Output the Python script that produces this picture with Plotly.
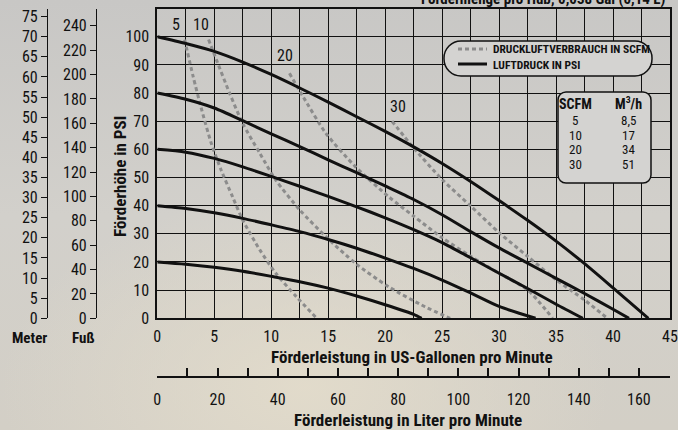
import base64
import plotly.graph_objects as go

# ---------------- data ----------------
psi_levels = [100, 80, 60, 40, 20]
gpm_psi100 = [0, 2.5, 5, 7.5, 10, 12.5, 15, 17.5, 20, 22.5, 25, 27.5, 30, 32.5, 35, 37.5, 40, 43.1]
head_psi100 = [100, 97.6, 94.8, 91, 86.6, 81.8, 76.8, 71.6, 66.4, 60.9, 55, 48.6, 41.8, 34.8, 27.4, 19.4, 10.8, 0]
gpm_psi80 = [0, 2.5, 5, 7.5, 10, 12.5, 15, 17.5, 20, 22.5, 25, 27.5, 30, 32.5, 35, 37.5, 40, 41.4]
head_psi80 = [80, 77.8, 74.7, 70.2, 65.5, 61, 56.3, 51.7, 47, 42.2, 36.8, 30.8, 25, 19.6, 14.2, 8.8, 3.2, 0]
gpm_psi60 = [0, 2.5, 5, 7.5, 10, 12.5, 15, 17.5, 20, 22.5, 25, 27.5, 30, 32.5, 35, 37.35]
head_psi60 = [60, 59, 56.8, 53.8, 50.4, 46.9, 43.3, 39.6, 35.7, 31.5, 26.9, 21.5, 16, 10.6, 5, 0]
gpm_psi40 = [0, 2.5, 5, 7.5, 10, 12.5, 15, 17.5, 20, 22.5, 25, 27.5, 30, 33.2]
head_psi40 = [40, 39, 37.5, 35.5, 33.2, 30.8, 28, 24.9, 21.4, 17.7, 13.6, 9, 4.2, 0]
gpm_psi20 = [0, 2.5, 5, 7.5, 10, 12.5, 15, 17.5, 20, 22.5, 23.2]
head_psi20 = [20, 19.2, 18.1, 16.7, 14.9, 13, 10.7, 7.9, 4.8, 1.4, 0]

scfm_levels = [5, 10, 20, 30]
gpm_scfm5 = [2.4, 3.15, 3.9, 4.75, 5.6, 6.6, 7.5, 9.0, 10.4, 12.2, 14.0]
head_scfm5 = [99, 85.8, 74, 62, 52.7, 43.2, 34.9, 24.3, 16, 7.7, 0]
gpm_scfm10 = [4.5, 5.2, 6.35, 7.5, 9.0, 10.4, 12.5, 14.8, 17.4, 20.3, 23.5, 25.7]
head_scfm10 = [99, 91.7, 79.9, 69.2, 58.6, 49.1, 38.5, 29, 19.5, 11.2, 4.1, 0]
gpm_scfm20 = [11.6, 12.8, 14.8, 17.4, 20.3, 22.5, 25, 27.5, 30, 32.5, 34.7]
head_scfm20 = [87, 78.7, 65.7, 53.8, 43.2, 36.3, 28.6, 22, 16, 10.1, 0]
gpm_scfm30 = [20.6, 22.5, 25, 27.5, 30, 32.5, 35, 37.5, 39.5]
head_scfm30 = [70, 60.5, 49.3, 39.9, 30.4, 22, 13.7, 6.5, 0]

scfm_label_x = [1.65, 3.8, 11.2, 21.1]
scfm_label_y = [104.5, 104.5, 93.4, 75.3]

table_scfm = ["5", "10", "20", "30"]
table_m3h = ["8,5", "17", "34", "51"]

# unit conversions for secondary axes
PSI_MAX = 110
GPM_MAX = 45
M_PER_PSI = 0.70
FT_PER_PSI = 2.31
L_PER_GAL = 3.785

# ---------------- layout helpers ----------------
W, H = 678, 430
R_MARGIN = 8
PW = W - R_MARGIN


def px(x):
    return x / PW


def py(y):
    return (H - y) / H


FONT = "Liberation Sans Narrow, Arial Narrow, Roboto Condensed, Liberation Sans, Arial, sans-serif"
BLACK = "#111111"
GRAY = "#8c8c8c"

fig = go.Figure()

solid_sets = [(gpm_psi100, head_psi100), (gpm_psi80, head_psi80), (gpm_psi60, head_psi60),
              (gpm_psi40, head_psi40), (gpm_psi20, head_psi20)]
dash_sets = [(gpm_scfm5, head_scfm5), (gpm_scfm10, head_scfm10),
             (gpm_scfm20, head_scfm20), (gpm_scfm30, head_scfm30)]

for (gx, hy) in dash_sets:
    fig.add_trace(go.Scatter(x=gx, y=hy, mode="lines",
                             line=dict(color=GRAY, width=3, dash="4px,3px", shape="spline", smoothing=0.7),
                             hoverinfo="skip", showlegend=False))
for (gx, hy) in solid_sets:
    fig.add_trace(go.Scatter(x=gx, y=hy, mode="lines",
                             line=dict(color=BLACK, width=3, shape="spline", smoothing=0.7),
                             hoverinfo="skip", showlegend=False))

# invisible traces so the secondary axes exist
fig.add_trace(go.Scatter(x=[0, GPM_MAX * L_PER_GAL], y=[0, 0], xaxis="x2", yaxis="y", mode="lines",
                         line=dict(width=0), opacity=0, hoverinfo="skip", showlegend=False))
fig.add_trace(go.Scatter(x=[0, 0], y=[0, PSI_MAX * M_PER_PSI], xaxis="x", yaxis="y2", mode="lines",
                         line=dict(width=0), opacity=0, hoverinfo="skip", showlegend=False))
fig.add_trace(go.Scatter(x=[0, 0], y=[0, PSI_MAX * FT_PER_PSI], xaxis="x", yaxis="y3", mode="lines",
                         line=dict(width=0), opacity=0, hoverinfo="skip", showlegend=False))

x_dom = [px(157.3), 1.0]
y_dom = [py(318.3), py(8.6)]

tickfont = dict(family=FONT, size=16, color=BLACK)

# background gradient (gray top -> warm beige bottom)
svg_bg = (
    '<svg xmlns="http://www.w3.org/2000/svg" width="678" height="430">'
    '<defs>'
    '<linearGradient id="g" x1="0" y1="0" x2="0" y2="1">'
    '<stop offset="0" stop-color="#c8c7c5"/>'
    '<stop offset="0.5" stop-color="#d2d0cb"/>'
    '<stop offset="1" stop-color="#d3cfc6"/>'
    '</linearGradient>'
    '<radialGradient id="r" cx="0.45" cy="0.9" r="0.45">'
    '<stop offset="0" stop-color="#e3dccb" stop-opacity="0.9"/>'
    '<stop offset="1" stop-color="#e3dccb" stop-opacity="0"/>'
    '</radialGradient>'
    '</defs>'
    '<rect width="678" height="430" fill="url(#g)"/>'
    '<rect width="678" height="430" fill="url(#r)"/>'
    '</svg>'
)
bg_src = "data:image/svg+xml;base64," + base64.b64encode(svg_bg.encode()).decode()

fig.update_layout(
    width=W, height=H,
    margin=dict(l=0, r=R_MARGIN, t=0, b=0, autoexpand=False),
    paper_bgcolor="#d0cec9",
    plot_bgcolor="rgba(0,0,0,0)",
    font=dict(family=FONT, color=BLACK),
    images=[dict(source=bg_src, xref="paper", yref="paper", x=0, y=1, sizex=W / PW, sizey=1,
                 sizing="stretch", xanchor="left", yanchor="top", layer="below")],
    xaxis=dict(domain=x_dom, range=[0, GPM_MAX], tickvals=list(range(0, 46, 5)), showgrid=True,
               gridcolor=BLACK, gridwidth=1.3, zeroline=False, showline=True, mirror=True,
               linecolor=BLACK, linewidth=2, ticks="", tickfont=tickfont, ticklabelstandoff=2,
               minor=dict(dtick=2.5, showgrid=True, gridcolor=BLACK, gridwidth=1.3)),
    yaxis=dict(domain=y_dom, range=[0, PSI_MAX], tickvals=list(range(0, 101, 10)), showgrid=True,
               gridcolor=BLACK, gridwidth=1.3, zeroline=False, showline=True, mirror=True,
               linecolor=BLACK, linewidth=2, ticks="", tickfont=tickfont, ticklabelstandoff=3),
    xaxis2=dict(overlaying="x", anchor="free", position=py(376.5), side="bottom",
                range=[0, GPM_MAX * L_PER_GAL], tickvals=list(range(0, 161, 20)),
                showgrid=False, zeroline=False, showline=True, linecolor=BLACK, linewidth=1.5,
                ticks="inside", ticklen=8, tickwidth=1.5, tickcolor=BLACK, tickfont=tickfont,
                ticklabelstandoff=9,
                minor=dict(dtick=10, ticks="inside", ticklen=8, tickwidth=1.5, tickcolor=BLACK, showgrid=False)),
    yaxis2=dict(overlaying="y", anchor="free", position=px(47), side="left",
                range=[0, PSI_MAX * M_PER_PSI], tickvals=list(range(0, 76, 5)),
                showgrid=False, zeroline=False, showline=True, linecolor=BLACK, linewidth=1.2,
                ticks="outside", ticklen=6, tickwidth=1.2, tickcolor=BLACK, tickfont=tickfont),
    yaxis3=dict(overlaying="y", anchor="free", position=px(96), side="left",
                range=[0, PSI_MAX * FT_PER_PSI], tickvals=list(range(0, 241, 20)),
                showgrid=False, zeroline=False, showline=True, linecolor=BLACK, linewidth=1.2,
                ticks="outside", ticklen=6, tickwidth=1.2, tickcolor=BLACK, tickfont=tickfont),
    showlegend=False,
)


def note(text, x, y, size, xanchor="center", yanchor="middle", ref="paper", angle=0):
    if ref == "paper":
        xx, yy, xr, yr = px(x), py(y), "paper", "paper"
    else:
        xx, yy, xr, yr = x, y, "x", "y"
    return dict(text=text, x=xx, y=yy, xref=xr, yref=yr,
                showarrow=False, textangle=angle, xanchor=xanchor, yanchor=yanchor,
                font=dict(family=FONT, size=size, color=BLACK))


ann = [
    note("<b>Förderleistung in US-Gallonen pro Minute</b>", 412, 357, 17),
    note("<b>Förderleistung in Liter pro Minute</b>", 408, 420, 17),
    note("<b>Förderhöhe in PSI</b>", 120, 177, 17, angle=-90),
    note("<b>Meter</b>", 29, 338, 15),
    note("<b>Fuß</b>", 83, 338, 15),
    note("<b>Fördermenge pro Hub; 0,038 Gal (0,14 L)</b>", 667, 10, 15, xanchor="right", yanchor="bottom"),
]
for s, lx, ly in zip(scfm_levels, scfm_label_x, scfm_label_y):
    ann.append(note(str(s), lx, ly, 16, ref="data"))

# legend box content
ann.append(note("<b>DRUCKLUFTVERBRAUCH IN SCFM</b>", 491, 49, 11.5, xanchor="left"))
ann.append(note("<b>LUFTDRUCK IN PSI</b>", 491, 65, 11.5, xanchor="left"))

# table content
ann.append(note("<b>SCFM</b>", 575, 104, 14))
ann.append(note("<b>M<sup>3</sup>/h</b>", 628, 103, 14))
row_y = [120, 135, 150, 164]
for a, b, ry in zip(table_scfm, table_m3h, row_y):
    ann.append(note(a, 575, ry, 13))
    ann.append(note(b, 628, ry, 13))

fig.update_layout(annotations=ann)


def rounded_path(x0, y0, x1, y1, r):
    k = 0.5523 * r

    def P(x, y):
        return f"{px(x):.5f},{py(y):.5f}"
    d = (f"M {P(x0 + r, y0)} L {P(x1 - r, y0)} "
         f"C {P(x1 - r + k, y0)} {P(x1, y0 + r - k)} {P(x1, y0 + r)} "
         f"L {P(x1, y1 - r)} "
         f"C {P(x1, y1 - r + k)} {P(x1 - r + k, y1)} {P(x1 - r, y1)} "
         f"L {P(x0 + r, y1)} "
         f"C {P(x0 + r - k, y1)} {P(x0, y1 - r + k)} {P(x0, y1 - r)} "
         f"L {P(x0, y0 + r)} "
         f"C {P(x0, y0 + r - k)} {P(x0 + r - k, y0)} {P(x0 + r, y0)} Z")
    return d


shapes = [
    dict(type="path", path=rounded_path(444, 41, 652, 76, 17), xref="paper", yref="paper",
         fillcolor="#d4d3d1", line=dict(color=BLACK, width=1.5), layer="above"),
    dict(type="path", path=rounded_path(558, 92, 651, 183, 8), xref="paper", yref="paper",
         fillcolor="#d4d3d1", line=dict(color=BLACK, width=1.5), layer="above"),
    dict(type="line", x0=px(458), x1=px(487), y0=py(49), y1=py(49), xref="paper", yref="paper",
         line=dict(color=GRAY, width=3, dash="4px,3px"), layer="above"),
    dict(type="line", x0=px(458), x1=px(487), y0=py(64), y1=py(64), xref="paper", yref="paper",
         line=dict(color=BLACK, width=3), layer="above"),
]
fig.update_layout(shapes=shapes)

fig.write_html("out.html", config={"displayModeBar": False},
               post_script="document.body.style.margin='0';document.body.style.overflow='hidden';")
